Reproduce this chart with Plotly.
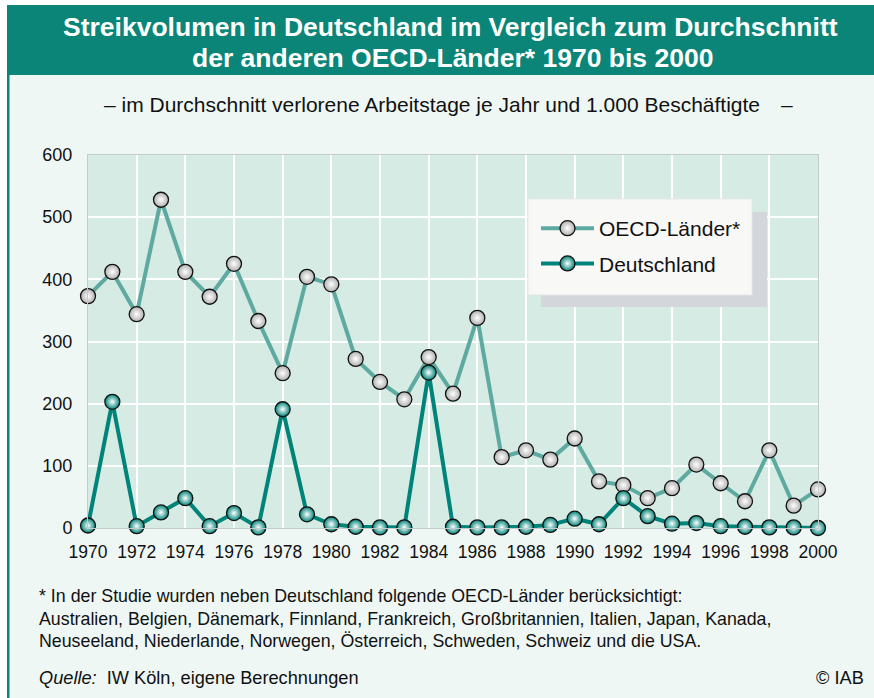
import plotly.graph_objects as go

years = list(range(1970, 2001))
oecd = [373, 412, 344, 528, 412, 372, 425, 333, 249, 404, 392, 272, 235, 207, 275, 216,
        338, 114, 125, 110, 144, 75, 69, 48, 64, 102, 72, 43, 125, 36, 62]
deutschland = [4, 203, 3, 25, 48, 3, 24, 1, 191, 22, 6, 2, 1, 1, 250, 2,
               1, 1, 2, 5, 15, 6, 48, 19, 7, 8, 3, 2, 1, 1, 0]
x_ticks = list(range(1970, 2001, 2))
y_ticks = list(range(0, 601, 100))

title1 = "Streikvolumen in Deutschland im Vergleich zum Durchschnitt"
title2 = "der anderen OECD-Länder* 1970 bis 2000"
subtitle = "– im Durchschnitt verlorene Arbeitstage je Jahr und 1.000 Beschäftigte"
foot = ["* In der Studie wurden neben Deutschland folgende OECD-Länder berücksichtigt:",
        "Australien, Belgien, Dänemark, Finnland, Frankreich, Großbritannien, Italien, Japan, Kanada,",
        "Neuseeland, Niederlande, Norwegen, Österreich, Schweden, Schweiz und die USA."]

W, H = 874, 698
L, R, T, B = 88, 818, 155, 528

def px(x):
    return (x - L) / (R - L)

def py(y):
    return (B - y) / (B - T)

FONT = "Arial, Liberation Sans, sans-serif"
TEAL = "#0a8577"
LIGHT = "#eef7f4"

fig = go.Figure()
fig.add_trace(go.Scatter(
    x=years, y=oecd, name="OECD-Länder*", mode="lines+markers",
    line=dict(color="#5ea9a0", width=4),
    marker=dict(size=15, color="#b0b0b0", line=dict(color="#111", width=1.3),
                gradient=dict(type="radial", color="#ffffff")),
    cliponaxis=False, legendgroup="a"))
fig.add_trace(go.Scatter(
    x=years, y=deutschland, name="Deutschland", mode="lines+markers",
    line=dict(color="#008379", width=4),
    marker=dict(size=15, color="#008379", line=dict(color="#111", width=1.3),
                gradient=dict(type="radial", color="#ffffff")),
    cliponaxis=False, legendgroup="b"))

shapes = [
    dict(type="rect", xref="paper", yref="paper", x0=px(0), x1=px(W), y0=py(0), y1=py(5),
         fillcolor="white", line_width=0, layer="above"),
    dict(type="rect", xref="paper", yref="paper", x0=px(0), x1=px(7), y0=py(0), y1=py(H),
         fillcolor="white", line_width=0, layer="above"),
    dict(type="rect", xref="paper", yref="paper", x0=px(7), x1=px(W), y0=py(5), y1=py(75),
         fillcolor=TEAL, line_width=0, layer="above"),
    dict(type="rect", xref="paper", yref="paper", x0=px(7), x1=px(9.5), y0=py(75), y1=py(H),
         fillcolor=TEAL, line_width=0, layer="above"),
    dict(type="rect", xref="paper", yref="paper", x0=px(541), x1=px(767), y0=py(212), y1=py(307),
         fillcolor="#d3d6da", line_width=0, layer="above"),
    dict(type="rect", xref="paper", yref="paper", x0=px(528), x1=px(752), y0=py(199), y1=py(295),
         fillcolor="#f8f8f6", line=dict(color="#e4e6e6", width=1), layer="above"),
]

ann = [
    dict(text=title1, x=px(450), y=py(27), xanchor="center", yanchor="middle",
         font=dict(size=26.5, color="white", family=FONT, weight="bold")),
    dict(text=title2, x=px(452), y=py(58), xanchor="center", yanchor="middle",
         font=dict(size=26.5, color="white", family=FONT, weight="bold")),
    dict(text=subtitle, x=px(102), y=py(105), xanchor="left", yanchor="middle",
         font=dict(size=21, color="#111", family=FONT)),
    dict(text="–", x=px(787), y=py(105), xanchor="center", yanchor="middle",
         font=dict(size=21, color="#111", family=FONT)),
    dict(text=foot[0], x=px(37), y=py(596), xanchor="left", yanchor="middle",
         font=dict(size=17.8, color="#111", family=FONT)),
    dict(text=foot[1], x=px(37), y=py(619), xanchor="left", yanchor="middle",
         font=dict(size=17.8, color="#111", family=FONT)),
    dict(text=foot[2], x=px(37), y=py(641), xanchor="left", yanchor="middle",
         font=dict(size=17.8, color="#111", family=FONT)),
    dict(text="<i>Quelle:</i>  IW Köln, eigene Berechnungen", x=px(37), y=py(678),
         xanchor="left", yanchor="middle", font=dict(size=18.2, color="#111", family=FONT)),
    dict(text="© IAB", x=px(866), y=py(678), xanchor="right", yanchor="middle",
         font=dict(size=18.2, color="#111", family=FONT)),
]
for a in ann:
    a.update(xref="paper", yref="paper", showarrow=False)

fig.update_layout(
    width=W, height=H,
    margin=dict(l=L, r=W - R, t=T, b=H - B, pad=0),
    paper_bgcolor=LIGHT, plot_bgcolor="#d5ebe3",
    font=dict(family=FONT, color="#111"),
    shapes=shapes, annotations=ann,
    legend=dict(x=px(536), y=py(208), xanchor="left", yanchor="top",
                bgcolor="rgba(0,0,0,0)", font=dict(size=21, family=FONT, color="#111"),
                tracegroupgap=5, traceorder="grouped", itemwidth=53),
    xaxis=dict(range=[1970, 2000], tickvals=x_ticks, showgrid=True, gridcolor="white",
               gridwidth=2, showline=True, linecolor="#c4cccb", linewidth=1, mirror=True,
               zeroline=False, ticks="", tickfont=dict(size=17.5), ticklabelstandoff=8),
    yaxis=dict(range=[0, 600], tickvals=y_ticks, showgrid=True, gridcolor="white",
               gridwidth=2, showline=True, linecolor="#c4cccb", linewidth=1, mirror=True,
               zeroline=False, ticks="", tickfont=dict(size=18), ticklabelstandoff=11),
)

fig.write_html("out.html", config={"displayModeBar": False},
               post_script="document.body.style.margin='0';")
